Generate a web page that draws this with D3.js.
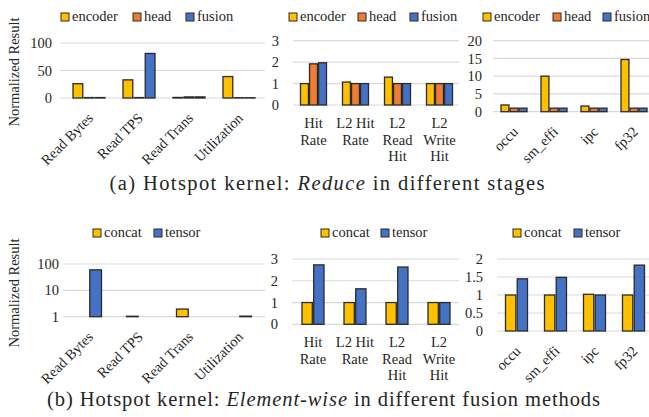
<!DOCTYPE html>
<html>
<head>
<meta charset="utf-8">
<script src="https://cdn.jsdelivr.net/npm/d3@7"></script>
<style>
  body { margin: 0; background: #fff; }
  text { font-family: "Liberation Serif", "DejaVu Serif", "Noto Serif", "Times New Roman", serif; fill: #262626; }
</style>
</head>
<body>
<svg id="chart" width="649" height="417"></svg>
<script>
// series and categories
const stages = ["encoder", "head", "fusion"];
const methods = ["concat", "tensor"];
const memMetrics = ["Read Bytes", "Read TPS", "Read Trans", "Utilization"];
const cacheMetrics = ["Hit Rate", "L2 Hit Rate", "L2 Read Hit", "L2 Write Hit"];
const computeMetrics = ["occu", "sm_effi", "ipc", "fp32"];

// values, one row per series
const reduceMem = [[26, 33, 1, 39], [0.8, 0.8, 2, 0.5], [0.8, 81, 2, 0.5]];
const reduceCache = [[1, 1.07, 1.3, 1], [1.92, 1, 1, 1], [1.97, 1, 1, 1]];
const reduceCompute = [[1.9, 10, 1.6, 14.7], [1, 1, 1, 1], [1, 1, 1, 1]];
const elemMem = [[1, 1.04, 1.95, 1], [60, 1, 1, 1.05]];
const elemCache = [[1, 1, 1, 1], [2.73, 1.63, 2.63, 1]];
const elemCompute = [[1, 1, 1.02, 1], [1.45, 1.49, 1, 1.83]];

// tick labels
const memTicks = [0, 50, 100];
const memLogTicks = [1, 10, 100];
const cacheTicks = [0, 1, 2, 3];
const computeTicks = [0, 5, 10, 15, 20];
const elemComputeTicks = [0, 0.5, 1, 1.5, 2];

const colors = { encoder: "#FFC000", head: "#ED7D31", fusion: "#4472C4", concat: "#FFC000", tensor: "#4472C4" };
const fontSize = 14.5;

const svg = d3.select("#chart");

function panel(o) {
  const g = svg.append("g");
  const x = d3.scaleBand().domain(o.cats).range(o.xRange);
  const maxTick = d3.max(o.ticks);
  const y = o.log
    ? d3.scaleLog().domain([1, maxTick]).range([o.base, o.top])
    : d3.scaleLinear().domain([0, maxTick]).range([o.base, o.top]);

  // gridlines
  g.selectAll("line.grid").data(o.ticks).join("line")
    .attr("x1", o.gridX[0]).attr("x2", o.gridX[1])
    .attr("y1", d => y(d)).attr("y2", d => y(d))
    .attr("stroke", "#d9d9d9").attr("stroke-width", 1.2);

  // y axis
  const ax = g.append("g")
    .attr("transform", `translate(${o.labelX},0)`)
    .call(d3.axisLeft(y).tickValues(o.ticks).tickSize(0).tickPadding(0).tickFormat(d3.format("")));
  ax.select(".domain").remove();
  ax.selectAll("text")
    .attr("font-size", fontSize)
    .attr("fill", "#262626");

  // bars
  const inner = d3.scaleBand().domain(o.series).range([-o.group / 2, o.group / 2]).paddingInner(0.12);
  const rows = o.series.map((s, i) => o.values[i].map((v, j) => ({ s, c: o.cats[j], v })));
  const floor = o.log ? 1 : 0;
  g.selectAll("g.series").data(rows).join("g")
    .selectAll("rect").data(d => d).join("rect")
    .attr("x", d => x(d.c) + x.bandwidth() / 2 + inner(d.s))
    .attr("width", inner.bandwidth())
    .attr("y", d => y(Math.max(d.v, floor)))
    .attr("height", d => y(floor) - y(Math.max(d.v, floor)))
    .attr("fill", d => colors[d.s])
    .attr("stroke", "#2b2b2b")
    .attr("stroke-width", 1.3);

  // category labels
  if (o.rotate) {
    g.selectAll("text.cat").data(o.cats).join("text")
      .attr("transform", d => `translate(${x(d) + x.bandwidth() / 2 + 5},${o.base + 21}) rotate(-45)`)
      .attr("text-anchor", "end")
      .attr("font-size", fontSize)
      .text(d => d);
  } else {
    o.cats.forEach(c => {
      const lines = wrap(c, 42);
      lines.forEach((ln, i) => {
        g.append("text")
          .attr("x", x(c) + x.bandwidth() / 2)
          .attr("y", o.base + 23 + i * 16.5)
          .attr("text-anchor", "middle")
          .attr("font-size", fontSize)
          .text(ln);
      });
    });
  }

  // legend
  o.series.forEach((s, i) => {
    const lx = o.legendX[i];
    g.append("rect")
      .attr("x", lx).attr("y", o.legendY)
      .attr("width", 8).attr("height", 8)
      .attr("fill", colors[s]).attr("stroke", "#2b2b2b").attr("stroke-width", 1);
    g.append("text")
      .attr("x", lx + 11).attr("y", o.legendY + 8)
      .attr("font-size", fontSize)
      .text(s);
  });
}

// word wrap using a measuring node
const meas = svg.append("text").attr("font-size", fontSize).attr("visibility", "hidden");
function wrap(str, maxW) {
  const words = str.split(" ");
  const lines = [];
  let cur = "";
  words.forEach(w => {
    const t = cur ? cur + " " + w : w;
    meas.text(t);
    if (cur && meas.node().getComputedTextLength() > maxW) {
      lines.push(cur);
      cur = w;
    } else cur = t;
  });
  lines.push(cur);
  return lines;
}

// (a) row
panel({ cats: memMetrics, series: stages, values: reduceMem, ticks: memTicks,
  xRange: [64, 264], gridX: [60, 265], labelX: 52, base: 98, top: 43, group: 32,
  rotate: true, legendX: [61, 133, 186], legendY: 13 });
panel({ cats: cacheMetrics, series: stages, values: reduceCache, ticks: cacheTicks,
  xRange: [292.5, 460.5], gridX: [293, 459], labelX: 279, base: 105, top: 40.7, group: 26,
  rotate: false, legendX: [289, 358, 410], legendY: 13 });
panel({ cats: computeMetrics, series: stages, values: reduceCompute, ticks: computeTicks,
  xRange: [494, 654], gridX: [493, 649], labelX: 482, base: 111.7, top: 40.7, group: 26,
  rotate: true, legendX: [483, 553, 603], legendY: 13 });

// (b) row
panel({ cats: memMetrics, series: methods, values: elemMem, ticks: memLogTicks, log: true,
  xRange: [64, 264], gridX: [63, 265], labelX: 59, base: 316.7, top: 264, group: 25,
  rotate: true, legendX: [93, 154], legendY: 229 });
panel({ cats: cacheMetrics, series: methods, values: elemCache, ticks: cacheTicks,
  xRange: [292, 460], gridX: [292, 459], labelX: 278, base: 324.3, top: 259, group: 22,
  rotate: false, legendX: [321, 381], legendY: 229 });
panel({ cats: computeMetrics, series: methods, values: elemCompute, ticks: elemComputeTicks,
  xRange: [497, 653], gridX: [497, 649], labelX: 483, base: 331, top: 259, group: 22,
  rotate: true, legendX: [513, 574], legendY: 229 });

// y titles
[72, 293].forEach(cy => {
  svg.append("text")
    .attr("transform", `translate(19,${cy}) rotate(-90)`)
    .attr("text-anchor", "middle")
    .attr("font-size", fontSize)
    .text("Normalized Result");
});

// captions
function caption(cx, by, width, pre, em, post) {
  const t = svg.append("text")
    .attr("x", cx).attr("y", by)
    .attr("text-anchor", "middle")
    .attr("font-size", 20.5)
    .attr("textLength", width)
    .attr("lengthAdjust", "spacing");
  t.append("tspan").text(pre);
  t.append("tspan").attr("font-style", "italic").text(em);
  t.append("tspan").text(post);
}
caption(327, 190, 435, "(a) Hotspot kernel: ", "Reduce", " in different stages");
caption(323.5, 406, 553, "(b) Hotspot kernel: ", "Element-wise", " in different fusion methods");
</script>
</body>
</html>
